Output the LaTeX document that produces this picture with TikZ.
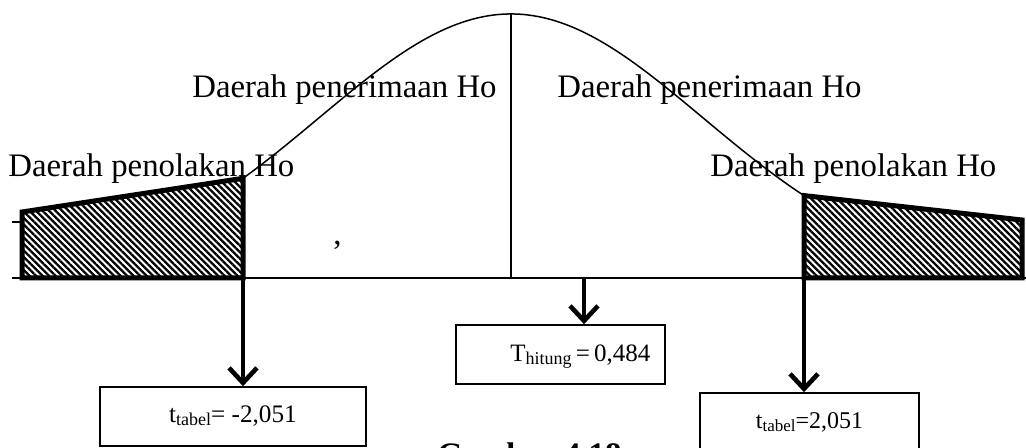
\documentclass[tikz,border=0pt]{standalone}
\usepackage{fontspec}
\setmainfont{Liberation Serif}
\usetikzlibrary{positioning}
\usetikzlibrary{arrows.meta}
\usetikzlibrary{patterns.meta}
\tikzset{
        region label/.style={anchor=base west, inner sep=0pt, font=\fontsize{16.4pt}{18pt}\selectfont},
        reject area/.style={
          line width=2.5pt, line join=miter,
          pattern={Lines[angle=-45, distance=2.3pt, line width=1.15pt]}
          },
        value box/.style={draw, line width=0.8pt, minimum height=29.5pt, inner sep=0pt},
        down arrow/.style={line width=2.3pt, -{Straight Barb[length=7.5pt, width=14pt, line width=2.3pt]}},
        thin line/.style={line width=0.75pt},
}

\begin{document}
\begin{tikzpicture}[x=0.5pt, y=-0.5pt,
    declare function={bell(\x)=278-264*exp(-0.5*((\x-511)/192)^2);}]
      \useasboundingbox (0,0) rectangle (1026,448);
      % \draw[help lines, dashed] (0,0) grid[step=50] (1026,448);
      % CURVE AND AXIS
      \coordinate (lt) at (243,{bell(243)});
      \coordinate (rt) at (804,{bell(804)});
      \coordinate (top) at (511,{bell(511)});
      \coordinate (axleft) at (243,278);
      \coordinate (axmid) at (584,278);
      \coordinate (axright) at (804,278);
      \draw[thin line] (12,278) -- (1026,278);
      \draw[thin line] (12,222) -- (22,222);
      \draw[thin line] plot[domain=243:804, samples=90, smooth] (\x,{bell(\x)});
      \draw[thin line] (top) -- (top |- axleft);

      % REJECTION AREAS
      \draw[reject area] (22,212) -- (lt) -- (axleft) -- (22,278) -- cycle;
      \draw[reject area] (rt) -- (1022,220) -- (1022,278) -- (axright) -- cycle;

      % LABELS
      \node[region label] (acceptleft) at (192,98) {Daerah penerimaan Ho};
      \node[region label] (acceptright) at (557,98) {Daerah penerimaan Ho};
      \node[region label] (rejectleft) at (8,177) {Daerah penolakan Ho};
      \node[region label] (rejectright) at (710,177) {Daerah penolakan Ho};
      \node[region label] (comma) at (333,245) {,};

      % VALUE BOXES
      \node[value box, minimum width=133pt, font=\fontsize{12.6pt}{14pt}\selectfont] (tleft) at (233,416.5)
        {t\raisebox{-0.25ex}{\fontsize{9pt}{10pt}\selectfont tabel}= -2,051};
      \node[value box, minimum width=104.5pt] (thitung) at (560.5,354.5) {};
      \node[region label, font=\fontsize{12.5pt}{14pt}\selectfont] (thitungtext) at (510,361)
        {T\raisebox{-0.3ex}{\fontsize{9pt}{10pt}\selectfont hitung}\,=\,0,484};
      \node[value box, minimum width=109.5pt, font=\fontsize{12pt}{14pt}\selectfont] (tright) at (809.5,422.5)
        {t\raisebox{-0.25ex}{\fontsize{8.5pt}{10pt}\selectfont tabel}=2,051};
      \node[region label, font=\fontsize{16.4pt}{18pt}\selectfont\bfseries] (caption) at (437,465) {Gambar 4.18};

      % ARROWS
      \draw[down arrow] (axleft) -- (axleft |- tleft.north);
      \draw[down arrow] (axmid) -- (axmid |- thitung.north);
      \draw[down arrow] (axright) -- (axright |- tright.north);
\end{tikzpicture}
\end{document}
